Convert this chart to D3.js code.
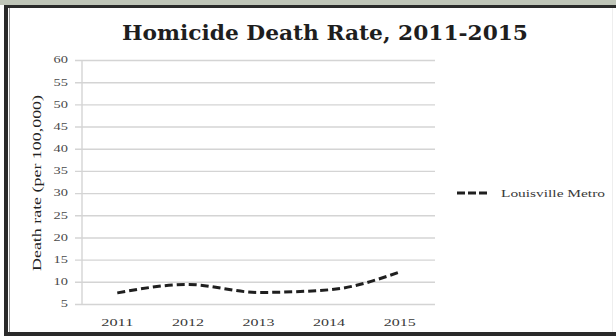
<!DOCTYPE html>
<html>
<head>
<meta charset="utf-8">
<script src="https://cdn.jsdelivr.net/npm/d3@7"></script>
<style>
  html, body { margin: 0; padding: 0; background: #fff; }
  svg { display: block; }
</style>
</head>
<body>
<svg id="chart" width="616" height="336"></svg>
<script>
// Homicide death rate per 100,000, Louisville Metro
const years = ["2011", "2012", "2013", "2014", "2015"];
const louisvilleRates = [7.5, 9.4, 7.6, 8.2, 12.2];
const yTicks = [5, 10, 15, 20, 25, 30, 35, 40, 45, 50, 55, 60];
const seriesName = "Louisville Metro";
const chartTitle = "Homicide Death Rate, 2011-2015";
const yAxisTitle = "Death rate (per 100,000)";

const svg = d3.select("#chart");
const W = 616, H = 336;
const serif = "'Liberation Serif', 'DejaVu Serif', serif";

// page backdrop and frame
svg.append("rect").attr("x", 0).attr("y", 0).attr("width", W).attr("height", H).attr("fill", "#fff");
svg.append("rect").attr("x", 0).attr("y", 0).attr("width", W).attr("height", 5).attr("fill", "#bfc5b8");
svg.append("rect").attr("x", 4).attr("y", 5).attr("width", W - 4).attr("height", 3).attr("fill", "#2a2a2a");
svg.append("rect").attr("x", 4).attr("y", 5).attr("width", 4).attr("height", H - 5).attr("fill", "#2a2a2a");
svg.append("rect").attr("x", 4).attr("y", 332).attr("width", W - 4).attr("height", 4).attr("fill", "#2a2a2a");
svg.append("line").attr("x1", 9.5).attr("x2", 9.5).attr("y1", 8).attr("y2", 332)
  .attr("stroke", "#9a9a9a").attr("stroke-width", 1);
svg.append("line").attr("x1", 612.5).attr("x2", 612.5).attr("y1", 8).attr("y2", 332)
  .attr("stroke", "#eeeeee").attr("stroke-width", 1);

// plot area
const plot = { left: 82, right: 435, top: 60, bottom: 304 };

const x = d3.scaleBand().domain(years).range([plot.left, plot.right]).padding(0);
const y = d3.scaleLinear().domain([5, 60]).range([plot.bottom, plot.top]);

// horizontal gridlines with short tick stubs on the left
const yAxis = d3.axisLeft(y).tickValues(yTicks).tickSize(-(plot.right - plot.left + 7)).tickFormat("");
const yg = svg.append("g").attr("transform", `translate(${plot.right},0)`).call(yAxis);
yg.select(".domain").remove();
yg.selectAll(".tick line").attr("stroke", "#d4d4d4").attr("stroke-width", 1.4)
  .attr("x1", 0).attr("x2", -(plot.right - plot.left + 7));

// vertical axis line
svg.append("line").attr("x1", plot.left).attr("x2", plot.left)
  .attr("y1", y(60)).attr("y2", y(5)).attr("stroke", "#d4d4d4").attr("stroke-width", 1.4);

// y tick labels
svg.append("g").selectAll("text").data(yTicks).join("text")
  .attr("x", 68).attr("y", d => y(d)).attr("dy", "0.35em")
  .attr("text-anchor", "end")
  .attr("font-family", serif).attr("font-size", 9.5).attr("fill", "#4a4a4a")
  .attr("textLength", d => String(d).length * 7.2).attr("lengthAdjust", "spacingAndGlyphs")
  .text(d => d);

// x tick labels
svg.append("g").selectAll("text").data(years).join("text")
  .attr("x", d => x(d) + x.bandwidth() / 2).attr("y", 322).attr("dy", "0.35em")
  .attr("text-anchor", "middle")
  .attr("font-family", serif).attr("font-size", 10).attr("fill", "#3a3a3a")
  .attr("textLength", 32).attr("lengthAdjust", "spacingAndGlyphs")
  .text(d => d);

// y axis title
svg.append("text")
  .attr("transform", `translate(41,183) rotate(-90)`)
  .attr("text-anchor", "middle")
  .attr("font-family", serif).attr("font-size", 13).attr("fill", "#222")
  .attr("textLength", 176).attr("lengthAdjust", "spacingAndGlyphs")
  .text(yAxisTitle);

// chart title
svg.append("text")
  .attr("x", 325).attr("y", 40)
  .attr("text-anchor", "middle")
  .attr("font-family", "'DejaVu Serif', serif").attr("font-weight", "bold")
  .attr("font-size", 19.5).attr("fill", "#1e1e1e")
  .attr("textLength", 406).attr("lengthAdjust", "spacingAndGlyphs")
  .text(chartTitle);

// data series: smoothed dashed line
const line = d3.line()
  .x((d, i) => x(years[i]) + x.bandwidth() / 2)
  .y(d => y(d))
  .curve(d3.curveMonotoneX);

svg.append("path")
  .datum(louisvilleRates)
  .attr("d", line)
  .attr("fill", "none")
  .attr("stroke", "#1f1f1f")
  .attr("stroke-width", 3)
  .attr("stroke-dasharray", "8,4");

// legend
svg.append("line").attr("x1", 457).attr("x2", 488).attr("y1", 193).attr("y2", 193)
  .attr("stroke", "#1f1f1f").attr("stroke-width", 3).attr("stroke-dasharray", "8,3");
svg.append("text").attr("x", 501).attr("y", 193).attr("dy", "0.35em")
  .attr("font-family", serif).attr("font-size", 10).attr("fill", "#3a3a3a")
  .attr("textLength", 104).attr("lengthAdjust", "spacingAndGlyphs")
  .text(seriesName);
</script>
</body>
</html>
